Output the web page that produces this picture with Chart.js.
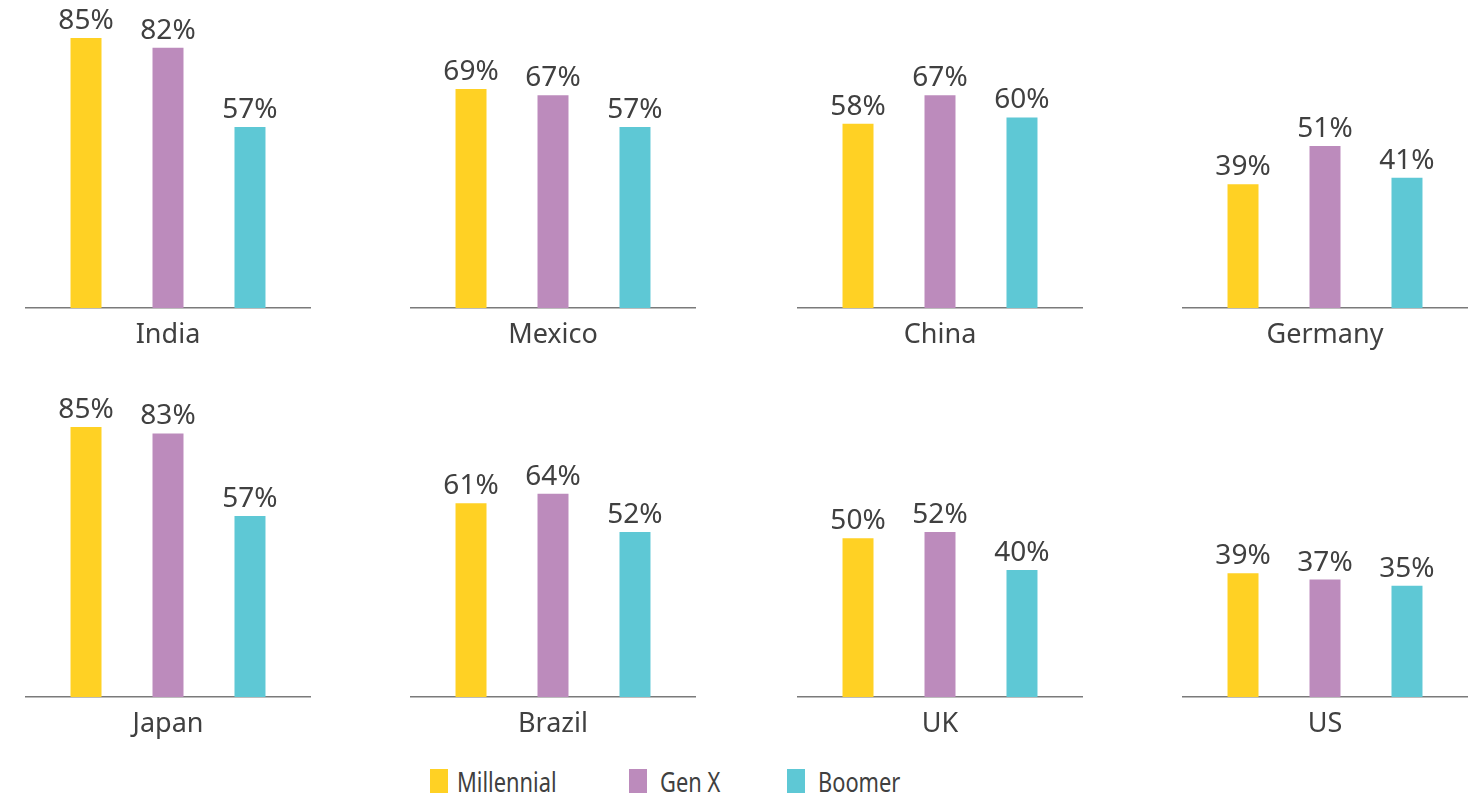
<!DOCTYPE html>
<html lang="en">
<head>
    <meta charset="UTF-8">
    <title>index</title>
    <script src="https://cdn.jsdelivr.net/npm/chart.js@4/dist/chart.umd.min.js"></script>
    <style>
        body {
            margin: 0;
            background: #fff;
            width: 1483px;
            height: 799px;
            position: relative;
            overflow: hidden;
            font-family: "Noto Sans", sans-serif;
        }

        .panel {
            position: absolute;
        }

        .legend-box {
            position: absolute;
            top: 769px;
            width: 18px;
            height: 24px;
        }

        .legend-text {
            position: absolute;
            top: 761px;
            font-size: 28px;
            line-height: 40px;
            color: #404040;
            white-space: nowrap;
            transform: scaleX(0.78);
            transform-origin: left center;
        }
    </style>
</head>
<body>

<div id="charts"></div>

<div class="legend-box" style="left:430px;background:#ffd124"></div>
<div class="legend-text" style="left:457px">Millennial</div>
<div class="legend-box" style="left:629px;background:#bc8bbc"></div>
<div class="legend-text" style="left:660px">Gen X</div>
<div class="legend-box" style="left:787px;background:#5ec8d5"></div>
<div class="legend-text" style="left:818px">Boomer</div>

<script>
    var countries = ['India', 'Mexico', 'China', 'Germany', 'Japan', 'Brazil', 'UK', 'US'];
    var millennial = [85, 69, 58, 39, 85, 61, 50, 39];
    var genX = [82, 67, 67, 51, 83, 64, 52, 37];
    var boomer = [57, 57, 60, 41, 57, 52, 40, 35];
    var seriesNames = ['Millennial', 'Gen X', 'Boomer'];

    var colors = ['#ffd124', '#bc8bbc', '#5ec8d5'];
    var lefts = [25, 410, 797, 1182];
    var tops = [0, 389];

    // value labels above the bars
    var valueLabels = {
        id: 'valueLabels',
        afterDatasetsDraw: function (chart) {
            var ctx = chart.ctx;
            ctx.save();
            ctx.font = '28px "Noto Sans", sans-serif';
            ctx.fillStyle = '#404040';
            ctx.textAlign = 'center';
            ctx.textBaseline = 'alphabetic';
            chart.data.datasets.forEach(function (ds, i) {
                chart.getDatasetMeta(i).data.forEach(function (bar, j) {
                    ctx.fillText(ds.data[j] + '%', bar.x, bar.y - 9);
                });
            });
            ctx.restore();
        }
    };

    var holder = document.getElementById('charts');

    countries.forEach(function (country, i) {
        var canvas = document.createElement('canvas');
        canvas.className = 'panel';
        canvas.width = 286;
        canvas.height = 358;
        canvas.style.left = lefts[i % 4] + 'px';
        canvas.style.top = tops[Math.floor(i / 4)] + 'px';
        holder.appendChild(canvas);

        var values = [millennial[i], genX[i], boomer[i]];

        new Chart(canvas.getContext('2d'), {
            type: 'bar',
            data: {
                labels: [country],
                datasets: seriesNames.map(function (name, k) {
                    return {
                        label: name,
                        data: [values[k]],
                        backgroundColor: colors[k],
                        categoryPercentage: 0.86,
                        barPercentage: 0.378
                    };
                })
            },
            options: {
                responsive: false,
                animation: false,
                layout: {padding: 0},
                plugins: {
                    legend: {display: false},
                    tooltip: {enabled: false}
                },
                scales: {
                    x: {
                        grid: {display: false, drawTicks: false},
                        border: {display: true, color: '#7a7a7a', width: 1.5},
                        ticks: {
                            padding: 11,
                            color: '#404040',
                            font: {family: '"Noto Sans", sans-serif', size: 27}
                        },
                        afterFit: function (scale) {
                            scale.height = 50;
                        }
                    },
                    y: {
                        display: false,
                        min: 0,
                        max: 97
                    }
                }
            },
            plugins: [valueLabels]
        });
    });
</script>
</body>
</html>
